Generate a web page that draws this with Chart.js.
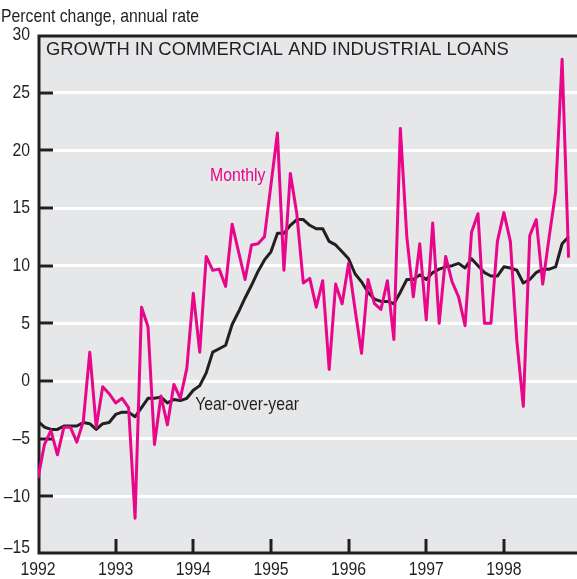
<!DOCTYPE html>
<html>
<head>
<meta charset="utf-8">
<script src="https://cdn.jsdelivr.net/npm/chart.js@4/dist/chart.umd.min.js"></script>
<style>
  html, body { margin: 0; padding: 0; background: #fff; }
  #wrap { width: 577px; height: 579px; }
</style>
</head>
<body>
<div id="wrap"><canvas id="loans" width="577" height="579"></canvas></div>
<script>
// monthly growth, annual rate, Jan 1992 .. Nov 1998
var monthly = [
  -8.4, -5.5, -4.3, -6.4, -4.0, -4.0, -5.3, -3.5, 2.5, -4.0, -0.5, -1.1,
  -1.9, -1.5, -2.3, -11.9, 6.4, 4.7, -5.5, -1.3, -3.8, -0.3, -1.5, 1.1,
  7.6, 2.5, 10.8, 9.6, 9.7, 8.2, 13.6, 11.2, 8.8, 11.8, 11.9, 12.5,
  17.0, 21.5, 9.6, 18.0, 14.5, 8.5, 8.9, 6.4, 8.7, 1.0, 8.4, 6.7,
  10.2, 6.2, 2.4, 8.8, 6.7, 6.2, 8.7, 3.6, 21.9, 12.5, 7.3, 11.9,
  5.3, 13.7, 5.0, 10.8, 8.6, 7.3, 4.8, 12.9, 14.5, 5.0, 5.0, 12.1,
  14.6, 12.1, 3.5, -2.2, 12.6, 14.0, 8.4, 12.5, 16.4, 27.9, 10.7
];
var yearOverYear = [
  -3.5, -4.0, -4.2, -4.2, -3.9, -3.9, -3.9, -3.6, -3.7, -4.2, -3.7, -3.6,
  -2.9, -2.7, -2.7, -3.1, -2.3, -1.5, -1.5, -1.4, -1.9, -1.6, -1.7, -1.5,
  -0.8, -0.4, 0.7, 2.5, 2.8, 3.1, 4.9, 6.0, 7.2, 8.3, 9.5, 10.5,
  11.2, 12.8, 12.8, 13.5, 14.0, 14.0, 13.5, 13.2, 13.2, 12.1, 11.8, 11.2,
  10.6, 9.3, 8.6, 7.7, 7.1, 6.9, 6.9, 6.7, 7.7, 8.8, 8.8, 9.2,
  8.8, 9.4, 9.7, 9.9, 10.0, 10.2, 9.8, 10.6, 10.0, 9.4, 9.1, 9.1,
  9.9, 9.8, 9.6, 8.5, 8.8, 9.4, 9.7, 9.7, 9.9, 11.9, 12.5
];
var years = ['1992', '1993', '1994', '1995', '1996', '1997', '1998'];
var yMin = -15, yMax = 30, yStep = 5;

// series labels written on the plot: [text, month index, value, colour]
var seriesNotes = [
  ['Monthly', 26.6, 17.8, '#e8078a'],
  ['Year-over-year', 24.3, -2.1, '#231f20']
];

var INK = '#231f20';
var PINK = '#e8078a';
var SANS = '"Liberation Sans", Arial, sans-serif';
var SQUEEZE = 0.83;   // no condensed face installed, so squeeze by hand

function toPoints(arr) {
  return arr.map(function (v, i) { return {x: i, y: v}; });
}

function narrowText(ctx, text, x, y, align, baseline) {
  ctx.save();
  ctx.font = '19px ' + SANS;
  ctx.textAlign = align;
  ctx.textBaseline = baseline;
  ctx.translate(x, y);
  ctx.scale(SQUEEZE, 1);
  ctx.fillText(text, 0, 0);
  ctx.restore();
}

function yLabel(v) {
  return v < 0 ? '\u2013' + Math.abs(v) : String(v);
}

var framePlugin = {
  id: 'frame',
  beforeDraw: function (chart) {
    var a = chart.chartArea, ctx = chart.ctx;
    ctx.save();
    ctx.fillStyle = '#e6e7e9';
    ctx.fillRect(a.left, a.top, a.right - a.left, a.bottom - a.top);
    ctx.restore();
  },
  beforeDatasetsDraw: function (chart) {
    var a = chart.chartArea, ctx = chart.ctx;
    var xs = chart.scales.x, ys = chart.scales.y;
    ctx.save();
    ctx.strokeStyle = INK;
    ctx.fillStyle = INK;
    ctx.lineWidth = 3;
    // inner y ticks
    for (var v = yMin + yStep; v < yMax; v += yStep) {
      var py = Math.round(ys.getPixelForValue(v));
      ctx.beginPath();
      ctx.moveTo(a.left, py);
      ctx.lineTo(a.left + 15, py);
      ctx.stroke();
    }
    // inner x ticks at each January
    for (var k = 1; k < years.length; k++) {
      var px = Math.round(xs.getPixelForValue(k * 12));
      ctx.beginPath();
      ctx.moveTo(px, a.bottom);
      ctx.lineTo(px, a.bottom - 15);
      ctx.stroke();
    }
    // frame: top, left, bottom
    ctx.beginPath();
    ctx.moveTo(a.right, a.top + 1);
    ctx.lineTo(a.left + 1, a.top + 1);
    ctx.lineTo(a.left + 1, a.bottom - 1);
    ctx.lineTo(a.right, a.bottom - 1);
    ctx.stroke();

    // tick labels
    ys.ticks.forEach(function (t) {
      var py = ys.getPixelForValue(t.value);
      if (t.value === yMin) py -= 6;
      narrowText(ctx, yLabel(t.value), a.left - 8, py, 'right', 'middle');
    });
    xs.ticks.forEach(function (t) {
      narrowText(ctx, years[Math.round(t.value / 12)], xs.getPixelForValue(t.value), a.bottom + 21, 'center', 'alphabetic');
    });

    ctx.font = '18.4px ' + SANS;
    ctx.textBaseline = 'alphabetic';
    ctx.fillText('GROWTH IN COMMERCIAL AND INDUSTRIAL LOANS', a.left + 8, a.top + 20);

    narrowText(ctx, 'Percent change, annual rate', 1, 22, 'left', 'alphabetic');

    seriesNotes.forEach(function (n) {
      ctx.fillStyle = n[3];
      narrowText(ctx, n[0], xs.getPixelForValue(n[1]), ys.getPixelForValue(n[2]), 'left', 'middle');
    });
    ctx.restore();
  }
};

new Chart(document.getElementById('loans'), {
  type: 'line',
  data: {
    datasets: [
      {
        label: 'Monthly',
        data: toPoints(monthly),
        borderColor: PINK,
        borderWidth: 3,
        pointRadius: 0,
        tension: 0,
        borderJoinStyle: 'round'
      },
      {
        label: 'Year-over-year',
        data: toPoints(yearOverYear),
        borderColor: INK,
        borderWidth: 3,
        pointRadius: 0,
        tension: 0,
        borderJoinStyle: 'round'
      }
    ]
  },
  options: {
    responsive: false,
    animation: false,
    events: [],
    layout: { padding: { top: 35, right: 0, left: 0, bottom: 0 } },
    plugins: {
      legend: { display: false },
      tooltip: { enabled: false }
    },
    scales: {
      x: {
        type: 'linear',
        min: 0,
        max: 83.3,
        afterFit: function (s) { s.height = 25; },
        afterBuildTicks: function (s) {
          s.ticks = years.map(function (y, k) { return {value: k * 12}; });
        },
        ticks: { display: false },
        grid: { display: false, drawTicks: false },
        border: { display: false }
      },
      y: {
        min: yMin,
        max: yMax,
        afterFit: function (s) { s.width = 38; },
        ticks: { display: false, stepSize: yStep },
        grid: {
          drawTicks: false,
          lineWidth: 3,
          color: function (c) {
            var v = c.tick && c.tick.value;
            return (v === yMin || v === yMax) ? 'rgba(0,0,0,0)' : '#ffffff';
          }
        },
        border: { display: false }
      }
    }
  },
  plugins: [framePlugin]
});
</script>
</body>
</html>
